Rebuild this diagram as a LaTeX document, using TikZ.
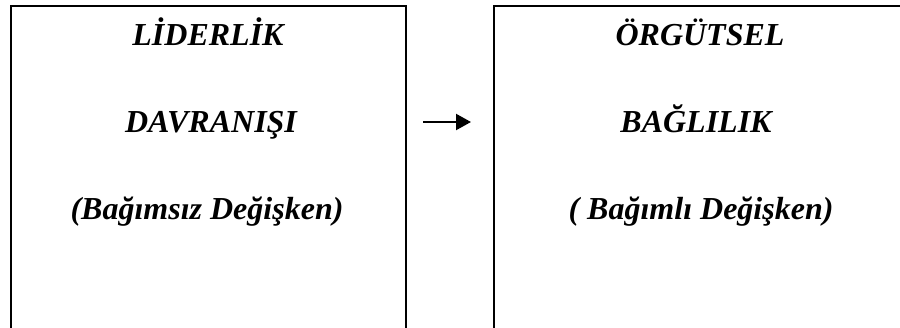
\documentclass[tikz,border=0pt]{standalone}
\usepackage{fontspec}
\setmainfont{Liberation Serif}
\usetikzlibrary{arrows.meta}
\tikzset{
  framebox/.style={draw=black, line width=2pt, minimum width=395pt, minimum height=334pt, inner sep=0pt},
  label/.style={font=\fontsize{32}{38}\selectfont\bfseries\itshape, anchor=base, inner sep=0pt},
  link/.style={line width=2.2pt, -{Triangle[length=15pt,width=16pt]}}
}
\begin{document}
\begin{tikzpicture}[x=1pt,y=-1pt]
\useasboundingbox (0,0) rectangle (900,327);
\clip (0,0) rectangle (900,327);
\node[framebox] (lbox) at (208.5,173) {};
\node[framebox, minimum width=420pt] (rbox) at (704,173) {};
\node[label] (l1) at (208,45) {LİDERLİK};
\node[label] (l2) at (211,132) {DAVRANIŞI};
\node[label] (l3) at (207,219) {(Bağımsız Değişken)};
\node[label] (r1) at (700,45) {ÖRGÜTSEL};
\node[label] (r2) at (696,132) {BAĞLILIK};
\node[label] (r3) at (701,219) {( Bağımlı Değişken)};
\coordinate (a1) at (423,122);
\coordinate (a2) at (471,122);
\draw[link] (a1) -- (a2);
\end{tikzpicture}
\end{document}
